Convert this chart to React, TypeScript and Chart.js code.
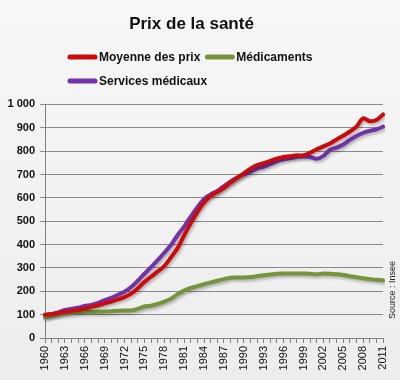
import React, { useEffect, useRef } from "react";
import { Chart, registerables } from "chart.js";

Chart.register(...registerables);

const years: string[] = [];
for (let y = 1960; y <= 2011; y++) years.push(String(y));

const moyenneDesPrix = [
  100, 103, 107, 112, 116, 120, 126, 133, 140, 148,
  156, 165, 175, 190, 212, 240, 262, 285, 308, 345,
  385, 440, 492, 540, 580, 608, 625, 643, 665, 685,
  705, 725, 740, 748, 758, 768, 775, 778, 782, 782,
  793, 808, 820, 833, 850, 866, 884, 905, 940, 928,
  933, 957,
];

const medicaments = [
  88, 95, 102, 106, 108, 110, 112, 112, 112, 113,
  115, 117, 118, 118, 125, 135, 138, 146, 156, 168,
  188, 203, 214, 222, 230, 238, 245, 252, 258, 259,
  259, 261, 265, 269, 272, 275, 276, 276, 276, 276,
  275, 273, 276, 275, 273, 270, 265, 260, 256, 252,
  249, 247,
];

const servicesMedicaux = [
  98, 102, 110, 120, 125, 130, 137, 142, 150, 162,
  172, 185, 198, 218, 245, 275, 303, 333, 365, 398,
  440, 477, 520, 560, 595, 615, 630, 650, 670, 687,
  700, 712, 725, 733, 745, 757, 765, 770, 775, 778,
  775, 767, 780, 805, 815, 828, 848, 865, 878, 887,
  893, 905,
];

const yTickValues = [0, 100, 200, 300, 400, 500, 600, 700, 800, 900, 1000];

const titleText = "Prix de la santé";
const sourceText = "Source : Insee";
const seriesLabels = ["Moyenne des prix", "Médicaments", "Services médicaux"];
const seriesColors = ["#cc0a0a", "#77933c", "#7232a8"];

const FONT = "'Liberation Sans', Arial, sans-serif";

const bgPlugin = {
  id: "bg",
  beforeDraw(chart: any) {
    const { ctx, width, height } = chart;
    ctx.save();
    const g = ctx.createLinearGradient(0, 0, 0, height);
    g.addColorStop(0, "#f7f7f7");
    g.addColorStop(1, "#ededed");
    ctx.fillStyle = g;
    ctx.fillRect(0, 0, width, height);
    ctx.restore();
  },
};

const shadowPlugin = {
  id: "shadow",
  beforeDatasetsDraw(chart: any) {
    const ctx = chart.ctx;
    ctx.save();
    ctx.shadowColor = "rgba(0,0,0,0.28)";
    ctx.shadowBlur = 3;
    ctx.shadowOffsetX = 1.5;
    ctx.shadowOffsetY = 2;
  },
  afterDatasetsDraw(chart: any) {
    chart.ctx.restore();
  },
};

const legendPlugin = {
  id: "customLegend",
  afterDraw(chart: any) {
    const ctx = chart.ctx;
    const ds = chart.data.datasets;
    ctx.save();
    ctx.font = `bold 12px ${FONT}`;
    ctx.textBaseline = "middle";
    const rows = [[0, 1], [2]];
    const rowY = [57, 81];
    rows.forEach((row, ri) => {
      let x = 68;
      row.forEach((i) => {
        const d = ds[i];
        ctx.strokeStyle = d.borderColor;
        ctx.lineWidth = 5;
        ctx.lineCap = "round";
        ctx.beginPath();
        ctx.moveTo(x + 2, rowY[ri]);
        ctx.lineTo(x + 27, rowY[ri]);
        ctx.stroke();
        ctx.fillStyle = "#111";
        ctx.fillText(d.label, x + 31, rowY[ri] + 0.5);
        x += 31 + ctx.measureText(d.label).width + 5;
      });
    });
    // source text
    ctx.font = `9px ${FONT}`;
    ctx.fillStyle = "#222";
    ctx.translate(393, 290);
    ctx.rotate(-Math.PI / 2);
    ctx.textAlign = "center";
    ctx.fillText(sourceText, 0, 0);
    ctx.restore();
  },
};

export default function App() {
  const ref = useRef<HTMLCanvasElement | null>(null);

  useEffect(() => {
    document.body.style.margin = "0";
    if (!ref.current) return;
    const chart = new Chart(ref.current, {
      type: "line",
      data: {
        labels: years,
        datasets: [
          { label: seriesLabels[0], data: moyenneDesPrix, borderColor: seriesColors[0] },
          { label: seriesLabels[1], data: medicaments, borderColor: seriesColors[1] },
          { label: seriesLabels[2], data: servicesMedicaux, borderColor: seriesColors[2] },
        ].map((d) => ({
          ...d,
          backgroundColor: d.borderColor,
          borderWidth: 4,
          pointRadius: 0,
          tension: 0.3,
          fill: false,
          borderCapStyle: "round" as const,
          borderJoinStyle: "round" as const,
        })),
      },
      options: {
        responsive: false,
        animation: false,
        layout: { padding: { top: 0, left: 0, right: 17, bottom: 0 } },
        plugins: {
          legend: { display: false },
          tooltip: { enabled: false },
          title: {
            display: true,
            text: titleText,
            color: "#111",
            font: { family: FONT, size: 17, weight: "bold" },
            padding: { top: 14, bottom: 70 },
          },
        },
        scales: {
          x: {
            type: "category",
            offset: false,
            grid: {
              drawOnChartArea: false,
              drawTicks: true,
              tickLength: 5,
              color: "#808080",
            },
            border: { color: "#808080", width: 1 },
            ticks: {
              autoSkip: false,
              maxRotation: 90,
              minRotation: 90,
              padding: 3,
              color: "#111",
              font: { family: FONT, size: 11 },
              callback: (_v: any, i: number) => (i % 3 === 0 ? years[i] : ""),
            },
            afterFit: (s: any) => {
              s.height = 42;
            },
          },
          y: {
            min: 0,
            max: 1000,
            afterBuildTicks: (s: any) => {
              s.ticks = yTickValues.map((v) => ({ value: v }));
            },
            grid: {
              color: "#8a8a8a",
              tickLength: 5,
              lineWidth: 1,
            },
            border: { color: "#808080", width: 1 },
            ticks: {
              padding: 5,
              color: "#111",
              font: { family: FONT, size: 11, weight: "bold" },
              callback: (v: any) => (v >= 1000 ? "1 000" : String(v)),
            },
            afterFit: (s: any) => {
              s.width = 45;
            },
          },
        },
      },
      plugins: [bgPlugin, shadowPlugin, legendPlugin],
    });
    return () => chart.destroy();
  }, []);

  return (
    <div style={{ width: 400, height: 380 }}>
      <canvas ref={ref} width={400} height={380} />
    </div>
  );
}
